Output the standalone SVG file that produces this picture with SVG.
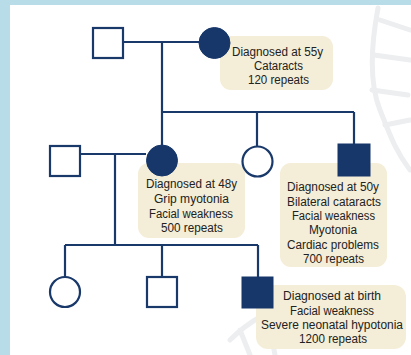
<svg xmlns="http://www.w3.org/2000/svg" width="411" height="355" viewBox="0 0 411 355">
<style>
.ln{fill:none;stroke:#1a396b;stroke-width:2.2}
.open{fill:#ffffff;stroke:#1a396b;stroke-width:2.2}
.full{fill:#17376a;stroke:#17376a;stroke-width:1}
.box{fill:#f4edd7}
.t{font-family:"Liberation Sans",Arial,sans-serif;font-size:12.5px;fill:#222222;text-anchor:middle}
.wm{fill:none;stroke:#eceef0;stroke-width:5;stroke-linecap:round}
</style>
<rect x="0" y="0" width="411" height="355" fill="#b8dde9"/>
<rect x="10" y="5" width="401" height="350" fill="#ffffff"/>
<g id="watermark">
<path class="wm" d="M378 8 C372 40 368 80 380 110 C390 135 395 150 410 170"/>
<path class="wm" d="M380 20 L410 30 M374 55 L410 60 M372 90 L408 95 M385 125 L410 120"/>
<path class="wm" d="M230 340 C250 320 270 310 300 300 M250 355 L240 330 M275 355 L268 318"/>
</g>
<g id="connectors">
<path class="ln" d="M123 42 H199"/>
<path class="ln" d="M162 42 V112"/>
<path class="ln" d="M162 112 H354"/>
<path class="ln" d="M162 112 V145"/>
<path class="ln" d="M257 112 V146"/>
<path class="ln" d="M354 112 V144"/>
<path class="ln" d="M80 154 H146"/>
<path class="ln" d="M115 154 V245"/>
<path class="ln" d="M65 245 H258"/>
<path class="ln" d="M65 245 V277"/>
<path class="ln" d="M162 245 V277"/>
<path class="ln" d="M258 245 V277"/>
</g>
<g id="label-gen1">
<rect class="box" x="220" y="36" width="113" height="54" rx="11"/>
<text class="t" x="277.5" y="56" textLength="91" lengthAdjust="spacingAndGlyphs">Diagnosed at 55y</text>
<text class="t" x="278.5" y="70" textLength="49" lengthAdjust="spacingAndGlyphs">Cataracts</text>
<text class="t" x="278.5" y="84" textLength="61" lengthAdjust="spacingAndGlyphs">120 repeats</text>
</g>
<g id="label-48y">
<rect class="box" x="138" y="163" width="107" height="75" rx="11"/>
<text class="t" x="191.5" y="188" textLength="91" lengthAdjust="spacingAndGlyphs">Diagnosed at 48y</text>
<text class="t" x="191.5" y="203" textLength="75" lengthAdjust="spacingAndGlyphs">Grip myotonia</text>
<text class="t" x="191" y="218" textLength="84" lengthAdjust="spacingAndGlyphs">Facial weakness</text>
<text class="t" x="192" y="232" textLength="62" lengthAdjust="spacingAndGlyphs">500 repeats</text>
</g>
<g id="label-50y">
<rect class="box" x="280" y="163" width="107" height="104" rx="11"/>
<text class="t" x="333" y="191" textLength="92" lengthAdjust="spacingAndGlyphs">Diagnosed at 50y</text>
<text class="t" x="334" y="205.5" textLength="94" lengthAdjust="spacingAndGlyphs">Bilateral cataracts</text>
<text class="t" x="333.5" y="220" textLength="83" lengthAdjust="spacingAndGlyphs">Facial weakness</text>
<text class="t" x="333" y="234" textLength="48" lengthAdjust="spacingAndGlyphs">Myotonia</text>
<text class="t" x="333" y="248.5" textLength="92" lengthAdjust="spacingAndGlyphs">Cardiac problems</text>
<text class="t" x="333.5" y="263" textLength="61" lengthAdjust="spacingAndGlyphs">700 repeats</text>
</g>
<g id="label-birth">
<rect class="box" x="256" y="285" width="150" height="64" rx="12"/>
<text class="t" x="332" y="300" textLength="98" lengthAdjust="spacingAndGlyphs">Diagnosed at birth</text>
<text class="t" x="332" y="315" textLength="84" lengthAdjust="spacingAndGlyphs">Facial weakness</text>
<text class="t" x="332" y="329" textLength="142" lengthAdjust="spacingAndGlyphs">Severe neonatal hypotonia</text>
<text class="t" x="333" y="343" textLength="68" lengthAdjust="spacingAndGlyphs">1200 repeats</text>
</g>
<g id="grandfather"><rect class="open" x="93" y="28" width="30" height="30"/></g>
<g id="grandmother"><circle class="full" cx="214.5" cy="43" r="15.5"/></g>
<g id="father"><rect class="open" x="50" y="146" width="30" height="30"/></g>
<g id="mother"><circle class="full" cx="162" cy="160.5" r="15.5"/></g>
<g id="aunt"><circle class="open" cx="257.5" cy="161.5" r="15"/></g>
<g id="uncle"><rect class="full" x="338" y="144" width="32" height="32"/></g>
<g id="daughter"><circle class="open" cx="65" cy="292" r="15"/></g>
<g id="son"><rect class="open" x="147" y="277" width="30" height="30"/></g>
<g id="affected-son"><rect class="full" x="242" y="277" width="31" height="31"/></g>
</svg>
